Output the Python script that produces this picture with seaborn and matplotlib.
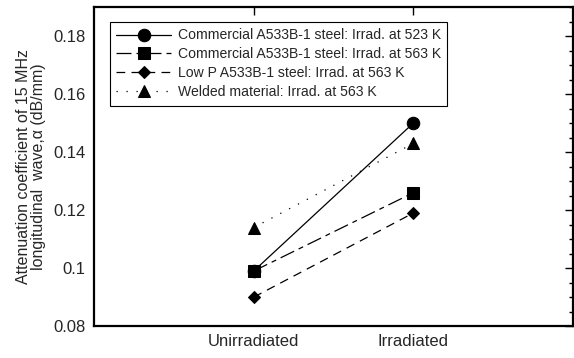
import matplotlib
matplotlib.use("Agg")
import matplotlib.pyplot as plt
import seaborn as sns
import pandas as pd
from matplotlib.ticker import MultipleLocator, FixedLocator

categories = ["Unirradiated", "Irradiated"]
labels = [
    "Commercial A533B-1 steel: Irrad. at 523 K",
    "Commercial A533B-1 steel: Irrad. at 563 K",
    "Low P A533B-1 steel: Irrad. at 563 K",
    "Welded material: Irrad. at 563 K",
]
comm_523 = [0.099, 0.150]
comm_563 = [0.099, 0.126]
lowp_563 = [0.090, 0.119]
welded_563 = [0.114, 0.143]
series = [comm_523, comm_563, lowp_563, welded_563]

markers = ["o", "s", "D", "^"]
msizes = [9, 9, 6.5, 8]
dashes = ["-", (0, (12, 4, 4, 4)), (0, (7, 5)), (0, (1, 7))]

sns.set_theme(style="white")
plt.rcParams["font.family"] = ["Liberation Sans", "DejaVu Sans"]

fig = plt.figure(figsize=(5.74, 3.58), dpi=100)
ax = fig.add_axes([0.164, 0.089, 0.834, 0.891])

xpos = {c: i + 1 for i, c in enumerate(categories)}
for lab, vals, m, ms, ls in zip(labels, series, markers, msizes, dashes):
    df = pd.DataFrame({"x": [xpos[c] for c in categories], "y": vals})
    sns.lineplot(data=df, x="x", y="y", ax=ax, color="black", marker=m,
                 markersize=ms, markeredgecolor="black", linewidth=0.9,
                 linestyle=ls, label=lab)

ax.set_xlim(0, 3)
ax.set_ylim(0.08, 0.19)
ax.xaxis.set_major_locator(FixedLocator([1, 2]))
ax.set_xticklabels(categories)
ax.yaxis.set_minor_locator(MultipleLocator(0.005))
ax.set_yticks([0.08, 0.1, 0.12, 0.14, 0.16, 0.18])
ax.set_yticklabels(["0.08", "0.1", "0.12", "0.14", "0.16", "0.18"])
ax.tick_params(which="both", direction="in", top=True, right=True,
               labelsize=12, color="black", width=1)
ax.tick_params(which="major", length=6, pad=6)
ax.tick_params(which="minor", length=3)
for s in ax.spines.values():
    s.set_color("black")
    s.set_linewidth(1.6)
ax.set_xlabel("")
ax.set_ylabel("Attenuation coefficient of 15 MHz\nlongitudinal  wave,α (dB/mm)",
              fontsize=11.5, labelpad=5, linespacing=1.05)

leg = ax.legend(loc="upper left", bbox_to_anchor=(0.033, 0.953), fontsize=10.1,
                frameon=True, fancybox=False, handlelength=3.9,
                borderpad=0.45, labelspacing=0.35, handletextpad=0.5,
                borderaxespad=0)
leg.get_frame().set_edgecolor("black")
leg.get_frame().set_linewidth(0.8)
leg.get_frame().set_alpha(1)

fig.savefig("out.png", dpi=100)
